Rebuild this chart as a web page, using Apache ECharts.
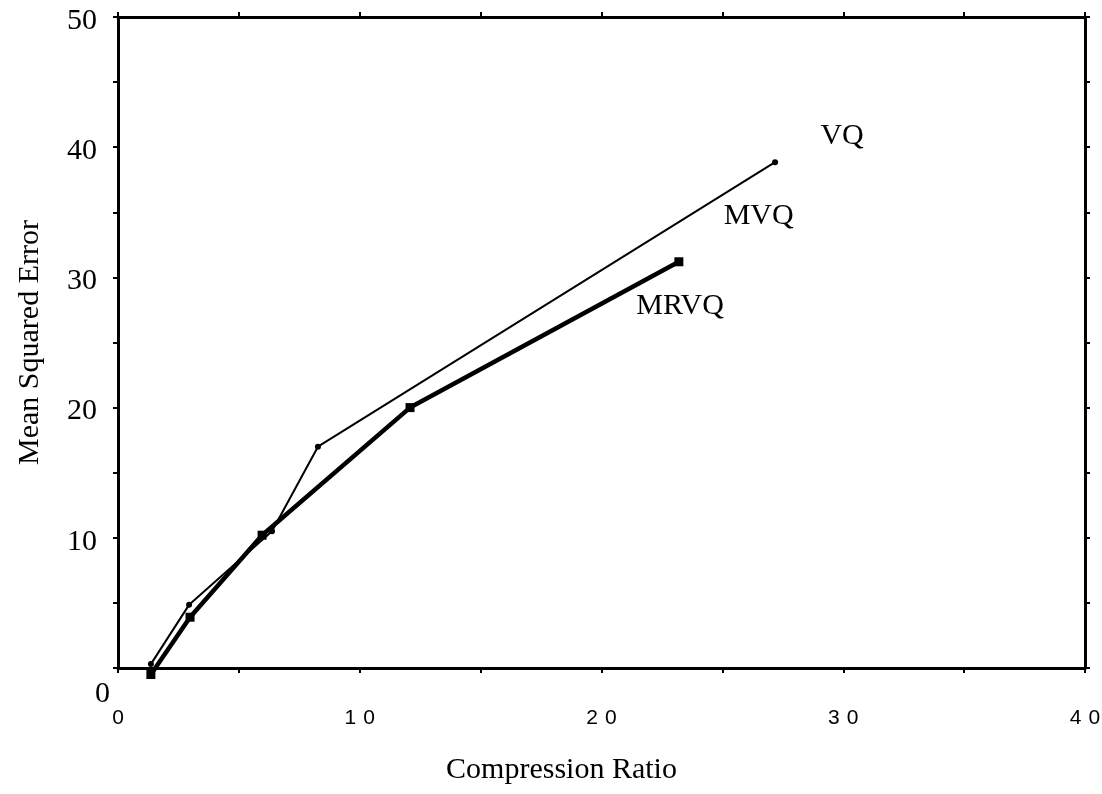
<!DOCTYPE html>
<html>
<head>
<meta charset="utf-8">
<script src="https://cdn.jsdelivr.net/npm/echarts@6/dist/echarts.min.js"></script>
<style>html,body{margin:0;padding:0;background:#fff}#c{width:1102px;height:794px}</style>
</head>
<body>
<div id="c"></div>
<script>
// Thin line (VQ / MVQ)
const thinX = [1.36, 2.94, 6.37, 8.27, 27.18];
const thinY = [0.3, 4.85, 10.5, 17.0, 38.85];
// Thick line (MRVQ)
const thickX = [1.36, 2.98, 5.96, 12.08, 23.2];
const thickY = [-0.5, 3.9, 10.2, 20.0, 31.2];
// Curve labels
const labelNames = ['VQ', 'MVQ', 'MRVQ'];
const labelX = [29.95, 26.5, 23.25];
const labelY = [40.85, 34.7, 27.8];
const xTicks = [0, 10, 20, 30, 40];
const yTicks = [0, 10, 20, 30, 40, 50];

const zip = (a, b) => a.map((v, i) => [v, b[i]]);
const serif = '"Liberation Serif", "DejaVu Serif", serif';
const sans = '"Liberation Sans", Arial, sans-serif';

const axisCommon = {
  min: 0, interval: 5,
  splitLine: {show: false},
  axisLine: {show: true, onZero: false, lineStyle: {color: '#000', width: 3}},
  axisTick: {show: true, inside: false, length: 5, lineStyle: {color: '#000', width: 2}},
};

const chart = echarts.init(document.getElementById('c'), null, {renderer: 'canvas'});
chart.setOption({
  animation: false,
  backgroundColor: '#fff',
  grid: {left: 118, right: 17, top: 17, bottom: 126, containLabel: false, outerBoundsMode: 'none'},
  xAxis: [
    Object.assign({}, axisCommon, {
      type: 'value', max: 40, position: 'bottom',
      name: 'Compression Ratio', nameLocation: 'middle', nameGap: 87,
      nameTextStyle: {fontFamily: serif, fontSize: 30, color: '#000', padding: [0, 80, 0, 0]},
      axisLabel: {
        margin: 40, fontFamily: sans, fontSize: 21, color: '#000',
        formatter: v => xTicks.includes(v) ? String(v).split('').join('\u2004') : ''
      }
    }),
    Object.assign({}, axisCommon, {
      type: 'value', max: 40, position: 'top', axisLabel: {show: false}
    })
  ],
  yAxis: [
    Object.assign({}, axisCommon, {
      type: 'value', max: 50, position: 'left',
      name: 'Mean Squared Error', nameLocation: 'middle', nameGap: 73,
      nameTextStyle: {fontFamily: serif, fontSize: 30, color: '#000'},
      axisLabel: {
        margin: 8, fontFamily: serif, fontSize: 30, color: '#000',
        formatter: v => yTicks.includes(v) ? (v === 0 ? '{z|0}' : '{n|' + v + '}') : '',
        rich: {
          n: {fontFamily: serif, fontSize: 30, color: '#000', padding: [8, 13, 0, 0]},
          z: {fontFamily: serif, fontSize: 30, color: '#000', padding: [52, 0, 0, 0]}
        }
      }
    }),
    Object.assign({}, axisCommon, {
      type: 'value', max: 50, position: 'right', axisLabel: {show: false}
    })
  ],
  series: [
    {
      type: 'line', name: 'thin', data: zip(thinX, thinY), clip: false,
      lineStyle: {color: '#000', width: 2},
      symbol: 'circle', symbolSize: 6, itemStyle: {color: '#000'}
    },
    {
      type: 'line', name: 'thick', data: zip(thickX, thickY), clip: false,
      lineStyle: {color: '#000', width: 4.5},
      symbol: 'rect', symbolSize: 9, itemStyle: {color: '#000'}
    },
    {
      type: 'scatter', name: 'labels', symbolSize: 0, clip: false,
      itemStyle: {opacity: 1, color: '#000'},
      data: labelNames.map((n, i) => ({value: [labelX[i], labelY[i]], name: n})),
      label: {show: true, position: 'inside', formatter: p => p.name,
        fontFamily: serif, fontSize: 30, color: '#000', opacity: 1}
    }
  ]
});
</script>
</body>
</html>
